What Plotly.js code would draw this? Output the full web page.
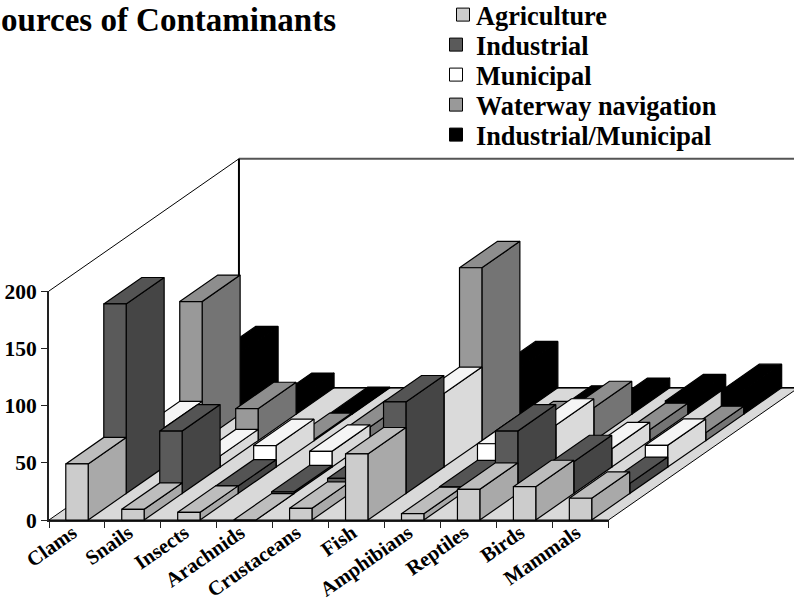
<!DOCTYPE html>
<html><head><meta charset="utf-8">
<script src="https://cdn.plot.ly/plotly-3.0.1.min.js"></script>
<style>html,body{margin:0;padding:0;background:#fff;overflow:hidden}</style>
</head><body><div id="chart" style="width:794px;height:601px"></div>
<script>
const categories = ['Clams','Snails','Insects','Arachnids','Crustaceans','Fish','Amphibians','Reptiles','Birds','Mammals'];
const agriculture = [49, 9.3, 6.7, 0, 10.2, 57.7, 5.5, 26.8, 29.1, 19];
const industrial  = [165.6, 54.6, 6.5, 1.5, 13.2, 80, 5.9, 54.6, 27.8, 8.8];
const municipal   = [34.3, 9.8, 18.8, 13.8, 3, 64.3, 20.4, 36.6, 16, 19];
const waterway    = [121.5, 27.9, 1, 12, 5, 151, 11.2, 28.8, 9.6, 7];
const indMunicipal= [53.6, 12.9, 0.5, 0, 0, 40.5, 1.7, 8.5, 11.6, 20.6];
const seriesNames = ['Agriculture','Industrial','Municipal','Waterway navigation','Industrial/Municipal'];
const seriesValues = [agriculture, industrial, municipal, waterway, indMunicipal];
const frontColors = ['#cccccc','#5a5a5a','#ffffff','#999999','#000000'];
const topColors   = ['#bdbdbd','#545454','#f5f5f5','#8e8e8e','#000000'];
const sideColors  = ['#a9a9a9','#454545','#dadada','#747474','#000000'];
const floorColor = '#d9d9d9';
const serif = '"Liberation Serif", serif';

// page geometry of the front plane (pixels)
const W = 794, H = 601, axL = 49, axR = 608.5, axTop = 291, axBot = 520;
const nS = seriesNames.length, nC = categories.length, yMax = 200;
const pxX = (axR-axL)/nC, pxY = (axBot-axTop)/yMax;
// oblique projection of the depth axis, in axis units per series slot
const depthX = 0.679, depthY = 23.1;
const barLeft = 0.3, barRight = 0.7;

function face(xs, ys, fill, lineColor, width){
  return {type:'scatter', mode:'lines', xaxis:'x2', yaxis:'y2', x:xs, y:ys, fill:'toself', fillcolor:fill,
    line:{color:lineColor||'#000', width:width===undefined?1.2:width, simplify:false},
    hoverinfo:'skip', showlegend:false};
}
function seg(xs, ys, color, width){
  return {type:'scatter', mode:'lines', xaxis:'x2', yaxis:'y2', x:xs, y:ys, line:{color:color, width:width, simplify:false},
    hoverinfo:'skip', showlegend:false};
}
const traces = [];
const bx = nS*depthX, by = nS*depthY;
// floor and walls
traces.push(face([0,nC,nC+bx,bx,0],[0,0,by,by,0], floorColor, '#000', 1));
traces.push(seg([0,bx],[yMax,yMax+by],'#000',1));
traces.push(seg([bx,bx+nC],[yMax+by,yMax+by],'#555',2));
traces.push(seg([bx,bx],[by,yMax+by],'#000',2));
traces.push(seg([bx,nC+bx],[by,by],'#000',1.5));
// bars, back row first, left to right
for(let s=nS-1;s>=0;s--){
  const vals = seriesValues[s];
  for(let i=0;i<nC;i++){
    const v = vals[i];
    const xL=i+barLeft+s*depthX, xR=i+barRight+s*depthX, y0=s*depthY, y1=y0+v;
    traces.push(face([xR,xR+depthX,xR+depthX,xR,xR],[y0,y0+depthY,y1+depthY,y1,y0], sideColors[s]));
    traces.push(face([xL,xR,xR+depthX,xL+depthX,xL],[y1,y1,y1+depthY,y1+depthY,y1], topColors[s]));
    traces.push(face([xL,xR,xR,xL,xL],[y0,y0,y1,y1,y0], frontColors[s]));
  }
}
const legendRows = [15,45,75,105,135];
const layout = {
  width:W, height:H, paper_bgcolor:'#fff', plot_bgcolor:'rgba(0,0,0,0)',
  margin:{l:0, r:0, t:0, b:0, autoexpand:false},
  title:{text:'Sources of Contaminants', x:336/W, xref:'container', xanchor:'right', y:1-19/H, yref:'container', yanchor:'middle',
    font:{family:serif, size:33, color:'#000', weight:'bold'}},
  xaxis:{domain:[axL/W, axR/W], anchor:'y', range:[0,nC], showgrid:false, zeroline:false, showline:true, linecolor:'#222', linewidth:2,
    tickmode:'array', tickvals:categories.map((c,i)=>i+0.42), ticktext:categories, ticks:'', tickangle:-35, ticklabelstandoff:-9,
    tickfont:{family:serif, size:20.5, color:'#000', weight:'bold'},
    minor:{tickmode:'array', tickvals:categories.map((c,i)=>i).concat(nC), ticks:'outside', ticklen:6, tickcolor:'#222', tickwidth:1, showgrid:false}},
  yaxis:{domain:[(H-axBot)/H, (H-axTop)/H], anchor:'x', range:[0,yMax], showgrid:false, zeroline:false, showline:true, linecolor:'#222', linewidth:2,
    tickmode:'array', tickvals:[0,50,100,150,200], ticks:'outside', ticklen:6, tickcolor:'#222', tickwidth:1,
    tickfont:{family:serif, size:21.5, color:'#000', weight:'bold'}},
  xaxis2:{domain:[0,1], anchor:'y2', visible:false, range:[-axL/pxX, (W-axL)/pxX]},
  yaxis2:{domain:[0,1], anchor:'x2', visible:false, range:[-(H-axBot)/pxY, axBot/pxY]},
  showlegend:true
};
seriesNames.forEach((name,s)=>{
  const key = s===0?'legend':'legend'+(s+1);
  traces.push({type:'scatter', mode:'markers', xaxis:'x', yaxis:'y', x:[null], y:[null], name:name, legend:key,
    marker:{symbol:'square', size:13, color:frontColors[s], line:{color:'#000',width:1}}, hoverinfo:'skip', showlegend:true});
  layout[key] = {x:436/W, xanchor:'left', y:1-legendRows[s]/H, yanchor:'middle', bgcolor:'rgba(0,0,0,0)',
    borderwidth:0, font:{family:serif, size:26.3, color:'#000', weight:'bold'}};
});
Plotly.newPlot('chart', traces, layout, {displayModeBar:false, staticPlot:true}).then(()=>{
  // the reference sets its legend swatches closer to the text
  document.querySelectorAll('.legend .legendpoints path').forEach(p=>{
    p.setAttribute('transform','translate(27,0)');
  });
});
</script></body></html>
